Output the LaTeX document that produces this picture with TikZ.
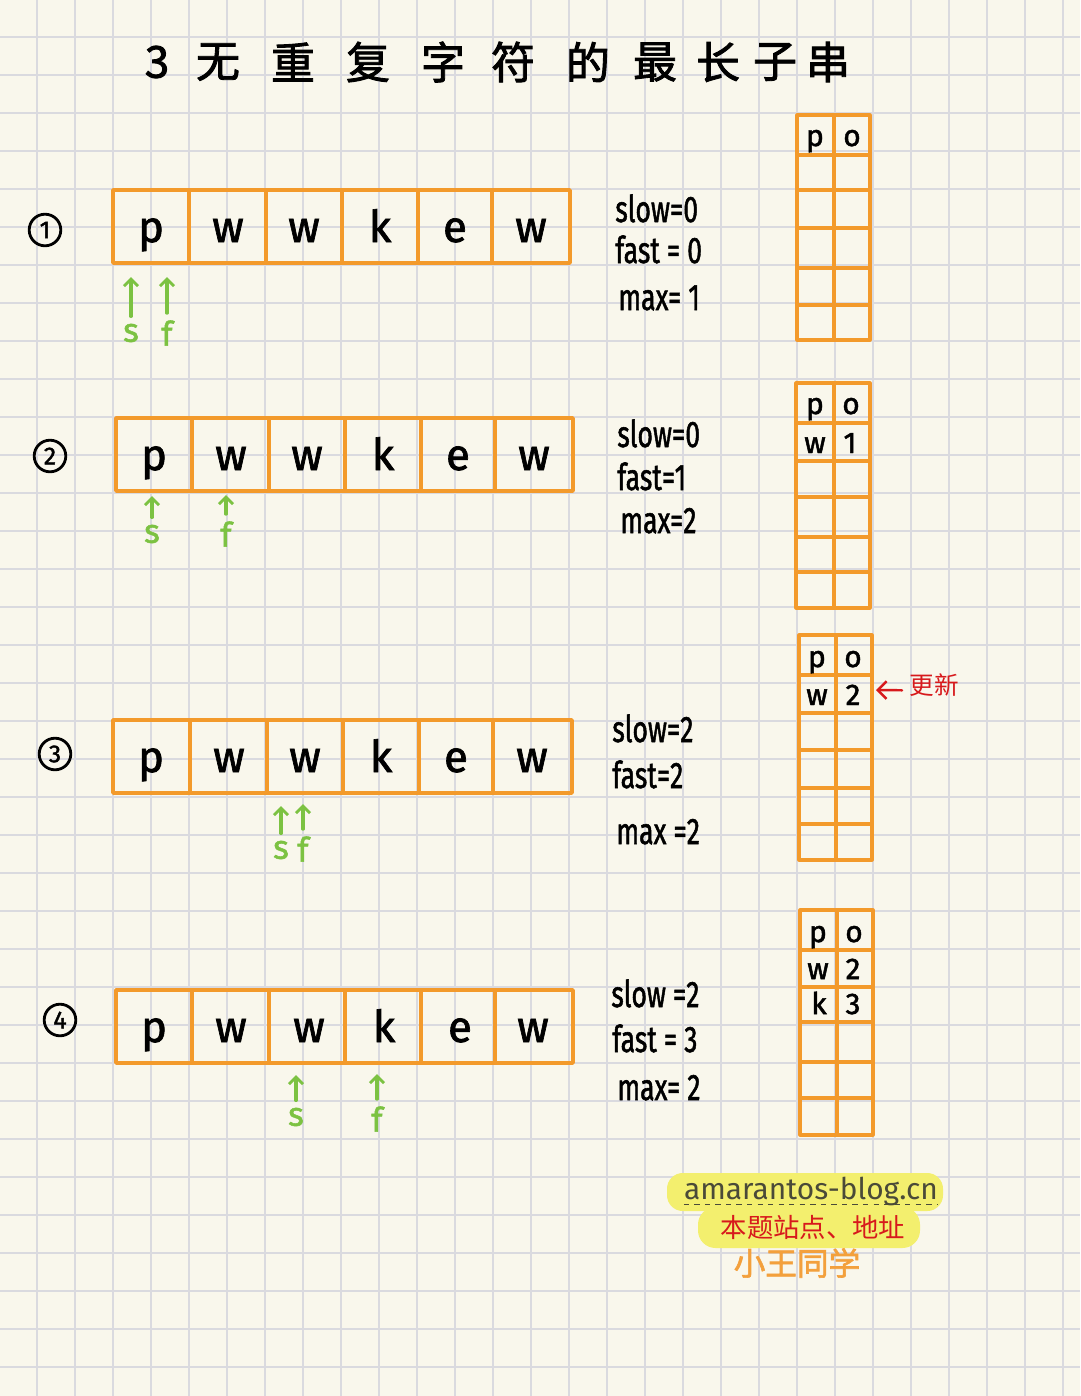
\documentclass[tikz,border=0pt]{standalone}
\usepackage{fontspec}
\usepackage{graphicx}
\setmainfont{Fira Sans}
\newfontfamily\hand[FakeBold=1.6]{Fira Sans}
\newfontfamily\cjk{Noto Sans CJK SC}
\newfontfamily\cjkb[FakeBold=2]{Noto Sans CJK SC}
\usetikzlibrary{arrows.meta}
\definecolor{paper}{HTML}{F9F7EC}
\definecolor{gridc}{HTML}{DADADF}
\definecolor{boxc}{HTML}{F39A2B}
\definecolor{ptr}{HTML}{7CC242}
\definecolor{redc}{HTML}{D7191C}
\definecolor{hl}{HTML}{F3EF6E}
\definecolor{wm}{HTML}{4A4A38}
\definecolor{sig}{HTML}{F3A03C}
\begin{document}
\begin{tikzpicture}[x=0.02cm,y=-0.02cm,
  gridline/.style={gridc,line width=0.8pt},
  boxline/.style={boxc,line width=2pt,line join=round},
  tabline/.style={boxc,line width=1.8pt,line join=round},
  cellt/.style={anchor=base,inner sep=0pt,font=\hand\fontsize{25}{28}\selectfont},
  tabt/.style={anchor=base,inner sep=0pt,font=\hand\fontsize{17}{20}\selectfont},
  vart/.style={anchor=base west,inner sep=0pt,font=\hand\fontsize{21}{24}\selectfont},
  circnum/.style={draw,circle,line width=1.6pt,minimum size=18pt,inner sep=0pt,font=\hand\fontsize{14}{15}\selectfont},
  titlet/.style={inner sep=0pt,font=\cjkb\fontsize{25}{28}\selectfont},
  ptrlab/.style={inner sep=0pt,ptr,font=\hand\fontsize{19}{20}\selectfont},
  ptrarrow/.style={ptr,line width=1.8pt,line cap=round,shorten <=4pt,-{Straight Barb[length=4pt,width=8pt,line width=1.7pt]}},
]
\useasboundingbox (0,0) rectangle (1080,1396);
\fill[paper] (0,0) rectangle (1080,1396);
\foreach \k in {0,...,27} \draw[gridline] (37+38*\k,0) -- (37+38*\k,1396);
\foreach \k in {0,...,35} \draw[gridline] (0,37+38*\k) -- (1080,37+38*\k);

% title
\foreach \c/\x [count=\i] in {3/157,无/218,重/293,复/368,字/443,符/513,的/588,最/655,长/718,子/775,串/828}
  \node[titlet] (t\i) at (\x,62) {\c};

% ---------- row 1 ----------
\node[circnum] (n1) at (45,230) {1};
\draw[boxline] (113,190) rectangle (570,263);
\foreach \x in {189,266,342,418,492} \draw[boxline] (\x,190) -- (\x,263);
\foreach \c/\x [count=\i] in {p/151,w/228,w/304,k/380,e/455,w/531}
  \node[cellt] (a1-\i) at (\x,242) {\c};
\node[ptrlab] (s1) at (131,333) {s};
\node[ptrlab] (f1) at (167,333) {f};
\coordinate (s1t) at (131,277);
\coordinate (f1t) at (167,277);
\draw[ptrarrow] (s1.north) -- (s1t);
\draw[ptrarrow] (f1.north) -- (f1t);
\node[vart] (v1a) at (615,222) {\scalebox{0.72}[1]{slow=0}};
\node[vart] (v1b) at (615,263) {\scalebox{0.72}[1]{fast = 0}};
\node[vart] (v1c) at (618,310) {\scalebox{0.72}[1]{max= 1}};
\draw[tabline] (797,115) rectangle (870,340);
\draw[tabline] (834,115) -- (834,340);
\foreach \y in {155,190,228,268,305} \draw[tabline] (797,\y) -- (870,\y);
\node[tabt] (m1a) at (815,146) {p};
\node[tabt] (m1b) at (852,146) {o};

% ---------- row 2 ----------
\node[circnum] (n2) at (50,456) {2};
\draw[boxline] (116,418) rectangle (573,491);
\foreach \x in {192,269,345,421,495} \draw[boxline] (\x,418) -- (\x,491);
\foreach \c/\x [count=\i] in {p/154,w/231,w/307,k/383,e/458,w/534}
  \node[cellt] (a2-\i) at (\x,470) {\c};
\node[ptrlab] (s2) at (152,534) {s};
\node[ptrlab] (f2) at (226,534) {f};
\coordinate (s2t) at (152,496);
\coordinate (f2t) at (226,495);
\draw[ptrarrow] (s2.north) -- (s2t);
\draw[ptrarrow] (f2.north) -- (f2t);
\node[vart] (v2a) at (617,447) {\scalebox{0.72}[1]{slow=0}};
\node[vart] (v2b) at (617,490) {\scalebox{0.72}[1]{fast=1}};
\node[vart] (v2c) at (620,533) {\scalebox{0.72}[1]{max=2}};
\draw[tabline] (796,383) rectangle (870,608);
\draw[tabline] (834,383) -- (834,608);
\foreach \y in {423,461,497,537,572} \draw[tabline] (796,\y) -- (870,\y);
\node[tabt] (m2a) at (815,414) {p};
\node[tabt] (m2b) at (851,414) {o};
\node[tabt] (m2c) at (815,453) {w};
\node[tabt] (m2d) at (850,453) {1};

% ---------- row 3 ----------
\node[circnum] (n3) at (55,754) {3};
\draw[boxline] (113,720) rectangle (572,793);
\foreach \x in {190,267,343,419,493} \draw[boxline] (\x,720) -- (\x,793);
\foreach \c/\x [count=\i] in {p/151,w/229,w/305,k/381,e/456,w/532}
  \node[cellt] (a3-\i) at (\x,772) {\c};
\node[ptrlab] (s3) at (281,850) {s};
\node[ptrlab] (f3) at (303,849) {f};
\coordinate (s3t) at (281,806);
\coordinate (f3t) at (303,804);
\draw[ptrarrow] (s3.north) -- (s3t);
\draw[ptrarrow] (f3.north) -- (f3t);
\node[vart] (v3a) at (612,742) {\scalebox{0.72}[1]{slow=2}};
\node[vart] (v3b) at (612,788) {\scalebox{0.72}[1]{fast=2}};
\node[vart] (v3c) at (616,844) {\scalebox{0.72}[1]{max =2}};
\draw[tabline] (799,635) rectangle (872,860);
\draw[tabline] (836,635) -- (836,860);
\foreach \y in {675,713,750,788,824} \draw[tabline] (799,\y) -- (872,\y);
\node[tabt] (m3a) at (817,667) {p};
\node[tabt] (m3b) at (853,667) {o};
\node[tabt] (m3c) at (817,705) {w};
\node[tabt] (m3d) at (853,705) {2};
\node[inner sep=0pt,redc,font=\cjk\fontsize{14}{16}\selectfont] (upd) at (934,685) {更新};
\coordinate (updtip) at (876,690);
\draw[redc,line width=1.4pt,line cap=round,-{Straight Barb[length=5pt,width=10pt,line width=1.4pt]}] ([xshift=-4pt,yshift=-3pt]upd.west) -- (updtip);

% ---------- row 4 ----------
\node[circnum] (n4) at (60,1020) {4};
\draw[boxline] (116,990) rectangle (573,1063);
\foreach \x in {192,269,345,421,495} \draw[boxline] (\x,990) -- (\x,1063);
\foreach \c/\x [count=\i] in {p/154,w/231,w/309,k/384,e/460,w/533}
  \node[cellt] (a4-\i) at (\x,1042) {\c};
\node[ptrlab] (s4) at (296,1117) {s};
\node[ptrlab] (f4) at (377,1119) {f};
\coordinate (s4t) at (296,1075);
\coordinate (f4t) at (377,1074);
\draw[ptrarrow] (s4.north) -- (s4t);
\draw[ptrarrow] (f4.north) -- (f4t);
\node[vart] (v4a) at (611,1007) {\scalebox{0.72}[1]{slow =2}};
\node[vart] (v4b) at (612,1052) {\scalebox{0.72}[1]{fast = 3}};
\node[vart] (v4c) at (617,1100) {\scalebox{0.72}[1]{max= 2}};
\draw[tabline] (800,910) rectangle (873,1135);
\draw[tabline] (837,910) -- (837,1135);
\foreach \y in {950,987,1022,1062,1098} \draw[tabline] (800,\y) -- (873,\y);
\node[tabt] (m4a) at (818,942) {p};
\node[tabt] (m4b) at (854,942) {o};
\node[tabt] (m4c) at (818,979) {w};
\node[tabt] (m4d) at (853,979) {2};
\node[tabt] (m4e) at (819,1014) {k};
\node[tabt] (m4f) at (853,1014) {3};

% ---------- watermark ----------
\fill[hl,rounded corners=9pt] (667,1173) rectangle (943,1211);
\fill[hl,rounded corners=10pt] (698,1207) rectangle (920,1248);
\node[inner sep=0pt,wm,font=\fontsize{17}{19}\selectfont] (wm1) at (811,1191) {amarantos-blog.cn};
\draw[wm,dashed,line width=0.8pt] ([yshift=-3pt]wm1.base west) -- ([yshift=-3pt]wm1.base east);
\node[inner sep=0pt,redc,font=\cjk\fontsize{15}{17}\selectfont] (wm2) at (813,1227) {本题站点、地址};
\node[inner sep=0pt,sig,font=\cjkb\fontsize{18}{20}\selectfont] (wm3) at (797,1263) {小王同学};
\end{tikzpicture}
\end{document}
